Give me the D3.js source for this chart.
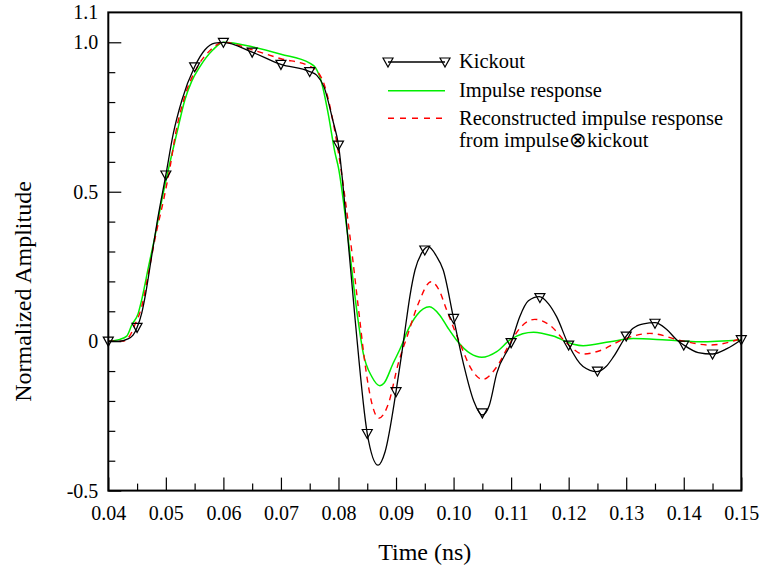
<!DOCTYPE html>
<html>
<head>
<meta charset="utf-8">
<script src="https://cdn.jsdelivr.net/npm/d3@7"></script>
<style>
  html, body { margin: 0; padding: 0; background: #fff; }
  svg { display: block; }
</style>
</head>
<body>
<svg id="chart" width="769" height="574"></svg>
<script>
// ---------- data ----------
const kickoutTime = [0.0400,0.0420,0.0432,0.0443,0.0450,0.0458,0.0465,0.0475,0.0485,0.0500,0.0513,0.0528,0.0550,0.0568,0.0585,0.0600,0.0650,0.0700,0.0750,0.0762,0.0775,0.0790,0.0800,0.0815,0.0829,0.0850,0.0869,0.0881,0.0900,0.0910,0.0918,0.0924,0.0933,0.0945,0.0956,0.0970,0.0982,0.1000,0.1017,0.1035,0.1050,0.1062,0.1075,0.1100,0.1115,0.1130,0.1149,0.1165,0.1179,0.1200,0.1225,0.1249,0.1265,0.1278,0.1300,0.1312,0.1330,0.1350,0.1370,0.1388,0.1400,0.1425,0.1450,0.1475,0.1500];
const kickoutValue = [0.000,0.000,0.006,0.020,0.046,0.093,0.160,0.280,0.400,0.556,0.695,0.807,0.918,0.975,0.997,1.000,0.967,0.926,0.902,0.890,0.850,0.740,0.656,0.372,0.071,-0.309,-0.415,-0.370,-0.169,-0.041,0.070,0.149,0.238,0.296,0.316,0.285,0.238,0.076,-0.074,-0.200,-0.247,-0.215,-0.108,-0.005,0.082,0.135,0.149,0.125,0.082,-0.013,-0.085,-0.102,-0.085,-0.052,0.017,0.043,0.058,0.062,0.040,0.004,-0.013,-0.038,-0.043,-0.025,0.005];

const markerTime = [0.040,0.045,0.050,0.055,0.060,0.065,0.070,0.075,0.080,0.085,0.090,0.095,0.100,0.105,0.110,0.115,0.120,0.125,0.130,0.135,0.140,0.145,0.150];
const markerValue = [0.000,0.046,0.556,0.918,1.000,0.967,0.926,0.902,0.656,-0.309,-0.169,0.305,0.076,-0.240,-0.005,0.146,-0.013,-0.100,0.017,0.060,-0.013,-0.043,0.005];

const impulseTime = [0.0400,0.0420,0.0432,0.0441,0.0452,0.0458,0.0470,0.0482,0.0493,0.0505,0.0519,0.0533,0.0545,0.0559,0.0582,0.0600,0.0650,0.0700,0.0750,0.0760,0.0771,0.0782,0.0794,0.0800,0.0815,0.0834,0.0843,0.0858,0.0872,0.0879,0.0895,0.0910,0.0918,0.0936,0.0958,0.0976,0.0990,0.1005,0.1029,0.1049,0.1075,0.1098,0.1120,0.1139,0.1173,0.1208,0.1225,0.1272,0.1312,0.1370,0.1428,0.1500];
const impulseValue = [0.000,0.006,0.017,0.055,0.093,0.138,0.250,0.360,0.472,0.580,0.695,0.807,0.870,0.918,0.975,1.000,0.985,0.960,0.930,0.915,0.863,0.762,0.630,0.580,0.370,0.071,-0.040,-0.119,-0.149,-0.141,-0.074,-0.013,0.026,0.087,0.115,0.087,0.045,0.004,-0.041,-0.054,-0.035,0.004,0.025,0.030,0.017,-0.010,-0.015,-0.002,0.009,0.004,-0.002,0.004];

const reconTime = [0.0400,0.0425,0.0438,0.0446,0.0458,0.0470,0.0483,0.0496,0.0508,0.0517,0.0531,0.0555,0.0578,0.0600,0.0650,0.0700,0.0750,0.0762,0.0775,0.0790,0.0800,0.0820,0.0837,0.0846,0.0858,0.0870,0.0887,0.0904,0.0920,0.0939,0.0961,0.0975,0.0988,0.1011,0.1032,0.1051,0.1075,0.1098,0.1115,0.1141,0.1167,0.1197,0.1225,0.1254,0.1295,0.1341,0.1399,0.1446,0.1500];
const reconValue = [0.000,0.000,0.020,0.054,0.115,0.230,0.360,0.472,0.590,0.695,0.807,0.918,0.975,1.000,0.975,0.945,0.920,0.905,0.860,0.740,0.630,0.350,0.071,-0.074,-0.208,-0.258,-0.208,-0.074,0.020,0.127,0.199,0.170,0.104,-0.007,-0.097,-0.128,-0.086,-0.007,0.043,0.073,0.054,-0.007,-0.043,-0.032,0.006,0.026,0.000,-0.013,0.009];

const xTickValues = [0.04,0.05,0.06,0.07,0.08,0.09,0.10,0.11,0.12,0.13,0.14,0.15];
const xTickLabels = ["0.04","0.05","0.06","0.07","0.08","0.09","0.10","0.11","0.12","0.13","0.14","0.15"];
const yTickValues = [-0.5,0,0.5,1.0,1.1];
const yTickLabels = ["-0.5","0","0.5","1.0","1.1"];
const legendLabels = ["Kickout","Impulse response","Reconstructed impulse response","from impulse\u2297kickout"];

// ---------- layout ----------
const FONT = '"Liberation Serif", "Times New Roman", serif';
const svg = d3.select("#chart");
const L = 108.3, R = 741.3, T = 12.4, B = 490.6;
const x = d3.scaleLinear().domain([0.04, 0.15]).range([L, R]);
const y = d3.scaleLinear().domain([-0.5, 1.1]).range([B, T]);

const zip = (ts, vs) => ts.map((t, i) => [t, vs[i]]);
const line = d3.line().x(d => x(d[0])).y(d => y(d[1])).curve(d3.curveMonotoneX);

const plot = svg.append("g");
plot.append("path").datum(zip(impulseTime, impulseValue))
  .attr("d", line).attr("fill", "none").attr("stroke", "#00ee00").attr("stroke-width", 1.5);
plot.append("path").datum(zip(reconTime, reconValue))
  .attr("d", line).attr("fill", "none").attr("stroke", "#ff0000").attr("stroke-width", 1.4)
  .attr("stroke-dasharray", "6,5");
plot.append("path").datum(zip(kickoutTime, kickoutValue))
  .attr("d", line).attr("fill", "none").attr("stroke", "#000").attr("stroke-width", 1.3);

const tri = "M-5,-4L5,-4L0,5Z";
plot.selectAll("path.mk").data(zip(markerTime, markerValue)).join("path")
  .attr("class", "mk").attr("d", tri)
  .attr("transform", d => `translate(${x(d[0])},${y(d[1])})`)
  .attr("fill", "none").attr("stroke", "#000").attr("stroke-width", 1.2);

// ---------- axes ----------
const minorX = d3.range(0.045, 0.15, 0.01);
const minorY = d3.range(-0.4, 1.05, 0.1).filter(v => Math.abs(v * 2 - Math.round(v * 2)) > 1e-6);

const gx = svg.append("g").attr("transform", `translate(0,${B})`)
  .call(d3.axisBottom(x).tickValues(xTickValues).tickFormat((d, i) => xTickLabels[i]).tickSize(-13).tickPadding(15));
gx.select(".domain").remove();
gx.selectAll("line").attr("stroke", "#000").attr("stroke-width", 1.2);
gx.selectAll("text").attr("fill", "#000").style("font-family", FONT).style("font-size", "20px");

const gxm = svg.append("g").attr("transform", `translate(0,${B})`)
  .call(d3.axisBottom(x).tickValues(minorX).tickFormat("").tickSize(-7));
gxm.select(".domain").remove();
gxm.selectAll("line").attr("stroke", "#000").attr("stroke-width", 1.2);

const gy = svg.append("g").attr("transform", `translate(${L},0)`)
  .call(d3.axisLeft(y).tickValues(yTickValues).tickFormat((d, i) => yTickLabels[i]).tickSize(-13).tickPadding(10));
gy.select(".domain").remove();
gy.selectAll("line").attr("stroke", "#000").attr("stroke-width", 1.2);
gy.selectAll(".tick").filter(d => d === 1.1).select("line").remove();
gy.selectAll("text").attr("fill", "#000").style("font-family", FONT).style("font-size", "20px");

const gym = svg.append("g").attr("transform", `translate(${L},0)`)
  .call(d3.axisLeft(y).tickValues(minorY).tickFormat("").tickSize(-7));
gym.select(".domain").remove();
gym.selectAll("line").attr("stroke", "#000").attr("stroke-width", 1.2);

// frame
svg.append("rect").attr("x", L).attr("y", T).attr("width", R - L).attr("height", B - T)
  .attr("fill", "none").attr("stroke", "#000").attr("stroke-width", 2);

// titles
svg.append("text").attr("x", (L + R) / 2).attr("y", 560).attr("text-anchor", "middle")
  .style("font-family", FONT).style("font-size", "24px").attr("fill", "#000").text("Time (ns)");
svg.append("text").attr("transform", `translate(31,${(T + B) / 2 + 40}) rotate(-90)`)
  .attr("text-anchor", "middle").style("font-family", FONT).style("font-size", "24px").attr("fill", "#000").text("Normalized Amplitude");

// ---------- legend ----------
const lg = svg.append("g");
const lx0 = 388, lx1 = 445, tx = 459;
const rows = [62, 90.7, 118.3];
lg.append("line").attr("x1", lx0).attr("x2", lx1).attr("y1", rows[0]).attr("y2", rows[0])
  .attr("stroke", "#000").attr("stroke-width", 1.3);
lg.selectAll("path.lm").data([lx0, lx1]).join("path").attr("class", "lm").attr("d", tri)
  .attr("transform", d => `translate(${d},${rows[0]})`).attr("fill", "none").attr("stroke", "#000").attr("stroke-width", 1.2);
lg.append("line").attr("x1", lx0).attr("x2", lx1).attr("y1", rows[1]).attr("y2", rows[1])
  .attr("stroke", "#00ee00").attr("stroke-width", 1.5);
lg.append("line").attr("x1", lx0).attr("x2", lx1).attr("y1", rows[2]).attr("y2", rows[2])
  .attr("stroke", "#ff0000").attr("stroke-width", 1.4).attr("stroke-dasharray", "6,6");
const textY = [67.5, 96.5, 124.5, 147];
lg.selectAll("text").data(legendLabels).join("text")
  .attr("x", tx).attr("y", (d, i) => textY[i]).style("font-family", FONT).style("font-size", "20.5px")
  .attr("fill", "#000").text(d => d);
</script>
</body>
</html>
